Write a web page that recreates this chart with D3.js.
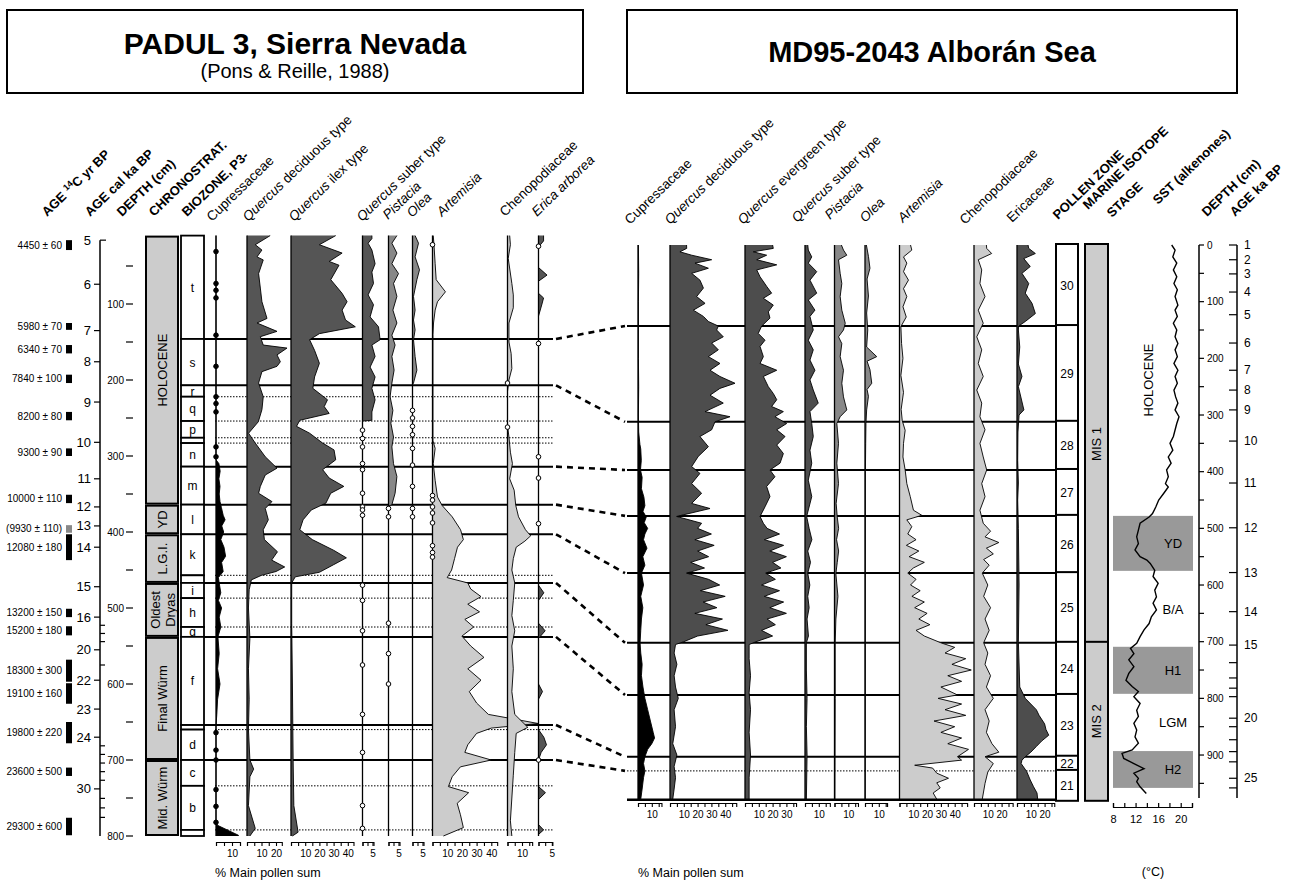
<!DOCTYPE html>
<html>
<head>
<meta charset="utf-8">
<script src="https://cdn.jsdelivr.net/npm/d3@7"></script>
<style>
  body { margin: 0; background: #fff; }
  text { font-family: "Liberation Sans", Arial, sans-serif; fill: #000; }
</style>
</head>
<body>
<svg id="chart" width="1297" height="880"></svg>
<script>
// ---------------- PADUL 3 data (depth in cm, values in %) ----------------
var padulDateLabels = ["4450 ± 60", "5980 ± 70", "6340 ± 70", "7840 ± 100", "8200 ± 80", "9300 ± 90",
  "10000 ± 110", "(9930 ± 110)", "12080 ± 180", "13200 ± 150", "15200 ± 180", "18300 ± 300",
  "19100 ± 160", "19800 ± 220", "23600 ± 500", "29300 ± 600"];
var padulDateTop = [16, 125, 154, 193, 242, 290, 351, 391, 403, 501, 524, 568, 599, 650, 710, 776];
var padulDateBot = [29, 134, 165, 204, 253, 300, 362, 401, 437, 512, 536, 597, 626, 678, 721, 799];
var padulDateGrey = [0, 0, 0, 0, 0, 0, 0, 1, 0, 0, 0, 0, 0, 0, 0, 0];

var padulAges = [5, 6, 7, 8, 9, 10, 11, 12, 13, 14, 15, 16, 20, 22, 23, 24, 30, 34];
var padulAgeDepth = [16, 74, 135, 176, 229, 282, 330, 367, 392, 420, 472, 512, 555, 595, 633, 670, 738, 788];
var padulAgeLabels = [5, 6, 7, 8, 9, 10, 11, 12, 13, 14, 15, 16, 20, 22, 23, 24, 30];
var padulAgeMinor = [17, 18, 19, 21, 25, 26, 27, 28, 29, 31, 32, 33];
var padulDepthTicks = [100, 200, 300, 400, 500, 600, 700, 800];

var padulChrono = [
  { name: "HOLOCENE", top: 10, bot: 364 },
  { name: "YD", top: 364, bot: 403 },
  { name: "L.G.I.", top: 403, bot: 467 },
  { name: "Oldest|Dryas", top: 467, bot: 538 },
  { name: "Final Würm", top: 538, bot: 700 },
  { name: "Mid. Würm", top: 700, bot: 800 }
];
var padulZones = [
  ["t", 10, 146], ["s", 146, 207], ["r", 207, 222], ["q", 222, 254], ["p", 254, 276], ["", 276, 283],
  ["n", 283, 314], ["m", 314, 364], ["l", 364, 403], ["k", 403, 457], ["", 457, 467], ["i", 467, 487],
  ["h", 487, 525], ["g", 525, 538], ["f", 538, 654], ["", 654, 660], ["d", 660, 700], ["c", 700, 734],
  ["b", 734, 792], ["", 792, 800]
];
var padulSolid = [146, 207, 314, 364, 403, 467, 538, 654, 700];
var padulDotted = [222, 254, 276, 283, 457, 487, 525, 660, 734, 792];

var padulTaxa = ["Cupressaceae", "Quercus| deciduous type", "Quercus| ilex type", "Quercus| suber type",
  "Pistacia|", "Olea|", "Artemisia|", "Chenopodiaceae", "Erica arborea|"];

var padulCup = [[10,0],[305,0],[310,1.8],[320,2.6],[330,1.8],[340,2.5],[350,2],[360,2.5],[368,3.4],[378,4.5],[384,5.7],
  [392,3.6],[400,4.8],[410,3],[420,5],[432,6],[440,3.5],[452,4.5],[460,1.5],[467,2],[480,3],[490,1.5],[500,3.5],[512,2],
  [525,3],[538,1.2],[560,2],[580,1],[600,2.5],[620,1],[640,0.5],[655,0],[780,0],[786,1],[793,8],[799,14],[800,14]];
var padulCupDots = [31, 73, 82, 92, 141, 182, 222, 231, 242, 288, 301, 664, 687, 700, 739, 761, 782];
var padulQdec = [[10,16],[22,5.7],[29,10.3],[38,6.9],[42,11.2],[60,8],[79,9.2],[97,10.3],[119,13.8],[125,6.9],[136,20.7],
  [143,9.2],[154,11.2],[158,27.6],[167,20.7],[176,23],[182,20.7],[189,10.3],[204,8],[222,11.2],[239,10.3],[255,7.8],
  [270,1.1],[283,5.7],[301,12.6],[316,20.7],[325,12.6],[340,9.2],[349,8],[360,17.2],[369,12.6],[384,14.7],[397,11.2],
  [410,12],[426,21],[437,17],[446,26],[452,20],[457,10],[463,3],[476,1.5],[500,1],[540,2],[580,1],[620,1.5],[660,1],
  [700,2],[712,4.6],[722,2],[760,1],[790,5.7],[800,2]];
var padulQilex = [[10,31.5],[22,20],[33,36],[44,26.9],[49,33.8],[68,28],[86,36],[97,39.5],[108,36],[121,38.4],[130,45.3],
  [139,20],[147,13.1],[161,16.6],[178,20],[196,16.6],[211,15.4],[226,25.7],[235,23.4],[244,26.9],[253,6.2],[261,3.9],
  [270,13.1],[283,22.3],[292,30.3],[305,31.5],[318,22.3],[329,26.9],[340,37.2],[349,28],[362,24.6],[371,14.3],
  [384,8.5],[397,6.2],[410,15],[424,30],[434,39],[443,30],[453,20],[459,3],[467,0.5],[520,0.5],[600,1],[700,1.5],
  [760,2],[795,5],[800,1]];
var padulQsuber = [[10,4.7],[14,4.7],[20,2.8],[29,4.7],[47,6.3],[58,4.7],[73,5.5],[88,2.8],[101,5.5],[117,3.8],[130,8],
  [147,8.8],[154,4.7],[169,6.3],[183,3.8],[196,6.3],[211,4.7],[226,6.3],[242,4.7],[253,4.7],[254,0],[800,0]];
var padulQsuberDots = [266, 277, 288, 310, 318, 349, 367, 371, 378, 470, 490, 530, 575, 640, 690, 760, 790];
var padulPistacia = [[10,4.2],[20,1.7],[33,4.2],[47,1.7],[60,5],[73,2.5],[90,4.2],[108,2.2],[125,4.2],[141,1.7],[154,3.3],
  [169,1.7],[187,2.8],[204,1.7],[222,0.8],[240,2.2],[257,1.2],[275,2.5],[288,1.7],[310,2.5],[327,4.2],[349,3.3],
  [364,1.7],[366,0],[800,0]];
var padulPistaciaDots = [369, 380, 520, 560, 600];
var padulOlea = [[10,1.3],[20,3],[38,1.3],[55,3.5],[68,2.2],[90,0.5],[108,1.3],[121,0.5],[134,1.3],[147,0.5],[169,1.3],
  [187,2.2],[204,0.5],[206,0],[800,0]];
var padulOleaDots = [240, 250, 261, 272, 290, 312, 340, 369, 380];
var padulArtemisia = [[10,0.5],[22,1],[47,1.8],[68,2.5],[84,8.8],[97,3.4],[108,1.8],[125,0.7],[140,0.3],[280,0.3],
  [290,1.8],[310,0.5],[332,1.8],[354,3.4],[365,6.5],[380,13.4],[397,19.1],[410,21],[420,17],[435,15],[450,13],
  [460,10],[467,24],[475,26],[485,33],[495,24],[505,32],[515,22],[525,28],[537,20],[550,26],[565,35],[580,24],
  [595,33],[610,25],[625,30],[640,38],[652,72],[658,40],[665,30],[680,24],[690,22],[700,40],[709,19],[722,13.4],
  [735,10.8],[743,24.6],[757,16.8],[772,19],[789,21],[800,7.4]];
var padulArtemisiaDots = [22, 352, 358, 367, 375, 388, 418, 427, 433];
var padulCheno = [[10,1.5],[22,2],[40,0.5],[73,3],[88,4],[105,4],[125,1],[150,1],[165,2.5],[185,3],[200,1],[215,0],
  [260,0],[275,1],[295,2],[310,3.4],[330,1.5],[345,4.6],[365,5.7],[380,7.6],[397,12.4],[405,16],[412,12],[420,6],
  [435,4],[450,3],[467,5],[490,4],[510,3],[530,5],[550,3],[580,4],[610,3],[640,5],[657,14],[665,6],[690,5],
  [720,4],[750,3],[780,2],[800,3]];
var padulChenoDots = [204, 262];
var padulErica = [[10,1.9],[17,1.9],[25,0],[52,0],[62,3.2],[70,0],[86,0],[92,1.9],[100,1.3],[116,0],[470,0],[480,2],
  [490,0],[520,0],[530,2.5],[540,0],[600,0],[610,1.5],[620,0],[660,0],[670,2],[680,3],[690,1],[700,0],[735,0],
  [743,2.6],[752,0],[785,0],[792,1.9],[798,0],[800,0]];
var padulEricaDots = [24, 152, 301, 329, 389, 700];

// ---------------- MD95-2043 data ----------------
var mdTaxa = ["Cupressaceae", "Quercus| deciduous type", "Quercus| evergreen type", "Quercus| suber type",
  "Pistacia|", "Olea|", "Artemisia|", "Chenopodiaceae", "Ericaceae"];

var mdCup = [[0,0.3],[50,0.5],[100,0.3],[150,0.3],[200,0.3],[250,0.5],[300,0.3],[330,0.5],[352,1.4],[360,2],[380,2.4],
  [397,1.8],[410,3],[430,2.5],[445,4.3],[460,5],[470,3.6],[480,6],[490,4.5],[500,7],[510,5],[520,4],[535,6.5],
  [550,3.5],[565,5],[579,2.5],[600,4],[620,2],[640,3.5],[660,2.5],[680,2],[702,1.5],[720,2],[740,3],[760,2.5],
  [780,3.6],[800,5],[820,7],[840,9],[860,11],[870,12],[880,10],[890,7],[903,5],[915,4],[928,5],[940,4],[960,3],[978,2]];
var mdQdec = [[0,12],[6,12.1],[12,7.2],[18,15.7],[26,30.2],[32,18.1],[41,27.8],[50,15.7],[62,21.7],[76,24.2],
  [91,19.3],[103,25.4],[115,16.9],[126,24.2],[135,27.8],[143,35],[150,33.8],[162,38.6],[173,30.2],[185,35],
  [197,27.8],[209,36.2],[221,29],[232,36.2],[244,47.1],[253,36.2],[265,29],[279,38.6],[294,25.4],[303,43.5],
  [312,32.6],[326,30.2],[338,21.7],[356,27.8],[373,20.5],[391,15.7],[403,21.7],[421,15.7],[438,22.9],[456,15.7],
  [465,29],[479,4.8],[491,22.9],[500,20],[510,30],[520,18],[530,32],[540,20],[550,28],[560,15],[570,25],[579,12],
  [590,28],[600,36],[610,22],[620,40],[630,24],[640,34],[650,18],[660,38],[670,26],[680,42],[690,20],[700,10],
  [705,4],[720,3],[740,5],[760,3],[780,4],[800,6],[820,3],[850,4],[880,2],[900,5],[920,3],[940,4],[960,3],[978,2]];
var mdQever = [[0,20],[6,20.5],[12,6],[18,15.7],[26,8.5],[35,23],[44,8.5],[56,10.9],[73,15.7],[85,19.3],[94,13.3],
  [106,20.5],[118,16.9],[129,18.1],[143,12.1],[156,9.6],[168,14.5],[179,10.9],[197,13.3],[209,10.9],[221,23],
  [232,13.3],[250,16.9],[262,20.5],[273,23],[285,19.3],[294,27.8],[303,21.7],[315,30.2],[326,23],[338,29],[353,23],
  [368,27.8],[385,25.4],[397,18.1],[409,21.7],[426,15.7],[444,18.1],[462,14.5],[479,10.9],[491,13.3],[500,16],
  [510,25],[520,14],[530,28],[540,18],[550,30],[560,20],[570,26],[579,15],[590,22],[600,12],[610,25],[620,14],
  [630,28],[640,18],[650,30],[660,16],[670,22],[680,12],[690,20],[700,8],[705,3],[730,3],[760,4],[790,3],[820,4],
  [860,3],[900,4],[940,3],[978,3]];
var mdQsuber = [[0,2],[9,2.4],[21,4.9],[32,2.4],[47,8.5],[62,3.6],[85,8.5],[97,2.4],[115,7.2],[126,3.6],[150,6],
  [168,2.4],[185,6],[203,3.6],[221,7.2],[238,3.6],[256,6],[279,9.6],[294,3.6],[315,4.9],[338,6],[362,3.6],[385,4.9],
  [415,2.4],[444,4.9],[479,1.2],[500,3],[520,5],[540,2],[560,4],[579,2],[600,3.5],[620,2],[640,3],[660,1.5],
  [690,2.5],[702,1],[750,1],[800,1.5],[850,1],[900,1.5],[978,1]];
var mdPistacia = [[0,5],[9,6.5],[18,8.9],[26,2.9],[50,4.1],[68,5.3],[91,4.1],[115,5.3],[138,7.8],[150,6.5],[162,2.9],
  [174,5.3],[197,4.1],[221,6.5],[244,5.3],[268,6.5],[291,8.9],[303,4.1],[315,1.7],[350,2.9],[385,1.7],[421,2.9],
  [456,1.2],[480,2],[500,3],[520,1.5],[540,3],[560,2],[580,1],[620,2.5],[660,1],[702,0.5],[800,0.5],[978,0.3]];
var mdOlea = [[0,1],[20,2.5],[41,3.6],[60,1.5],[90,2.5],[120,1.2],[150,2],[180,1.2],[197,8.5],[205,1.5],[220,3.6],
  [244,4.9],[255,1.5],[267,2.5],[291,1.2],[315,0.7],[350,0.5],[400,0.3],[978,0.2]];
var mdArtemisia = [[0,8],[9,8.9],[21,2.9],[32,5.3],[47,2.9],[62,6.5],[77,2.9],[91,5.3],[109,2.5],[127,4.9],[144,1],
  [174,1.5],[200,2.5],[230,1],[260,2.9],[290,1.2],[310,2],[327,4.1],[350,2.9],[374,2.5],[397,4.1],[421,5.3],
  [444,7.8],[468,10.1],[477,16.2],[485,5.3],[497,8.9],[510,6],[520,12],[530,5],[540,14],[550,7],[560,18],[570,10],
  [579,6],[590,12],[600,8],[610,15],[620,9],[630,18],[640,11],[650,20],[660,14],[670,22],[680,12],[690,18],[702,30],
  [710,40],[720,33],[730,48],[740,38],[750,52],[760,35],[770,45],[780,30],[794,42],[800,28],[810,45],[820,33],
  [830,48],[840,25],[850,40],[860,30],[870,45],[880,35],[890,50],[903,42],[909,45],[918,11],[923,24],[932,27],
  [941,35.5],[949,27],[958,29.5],[967,24.4],[978,27]];
var mdCheno = [[0,9],[6,9.2],[15,12.8],[26,3.1],[44,5.6],[68,4.3],[91,8],[115,3.1],[138,6.7],[162,2],[185,5.6],
  [209,3.1],[232,6.7],[256,2],[279,5.6],[303,4.3],[326,8],[350,4.3],[374,6.7],[397,9.2],[421,5.6],[444,8],[468,4.3],
  [491,6.7],[505,12],[515,8],[525,18],[535,9],[545,14],[555,7],[565,11],[579,6],[600,10],[620,7],[640,12],[660,8],
  [680,11],[702,7],[720,10],[740,8],[760,12],[780,9],[800,14],[820,8],[840,11],[860,9],[880,13],[895,18],[903,8],
  [915,14],[930,10],[950,8],[978,6]];
var mdErica = [[0,8],[6,8.5],[15,13.3],[24,4.9],[38,9.6],[50,3.6],[68,8.5],[85,6],[103,10.9],[121,13.3],[135,6],
  [143,1.2],[150,1],[180,2],[210,1],[232,3.6],[250,1],[291,5],[300,1.5],[330,0.7],[380,0.5],[420,1],[450,0.5],
  [500,1],[600,1.5],[700,1],[780,2],[800,6],[810,10],[820,14],[830,16],[845,20],[855,21],[865,23],[875,18],[885,14],
  [895,10],[903,6],[909,3.6],[915,3],[929,7],[944,9.6],[956,12],[967,14.5],[978,15]];

var mdZones = [["30", 0, 143], ["29", 143, 312], ["28", 312, 397], ["27", 397, 478], ["26", 478, 579],
  ["25", 579, 702], ["24", 702, 794], ["23", 794, 903], ["22", 903, 928], ["21", 928, 979]];
var mdSolid = [143, 312, 397, 478, 579, 702, 794, 903];
var mdDotted = [928];
var mdMIS = [["MIS 1", 0, 702], ["MIS 2", 702, 979]];
var mdEvents = [["YD", 478, 575, 1], ["B/A", 575, 709, 0], ["H1", 709, 792, 1], ["LGM", 792, 893, 0], ["H2", 893, 958, 1]];

var mdAges = [1, 2, 3, 4, 5, 6, 7, 8, 9, 10, 11, 12, 13, 14, 15, 16, 17, 18, 19, 20, 21, 22, 23, 24, 25, 26];
var mdAgeDepth = [0, 26, 51, 83, 123, 173, 221, 256, 291, 346, 420, 499, 578, 647, 706, 737, 764, 782, 797, 835,
  850, 873, 894, 912, 941, 958];
var mdAgeLabels = [1, 2, 3, 4, 5, 6, 7, 8, 9, 10, 11, 12, 13, 14, 15, 20, 25];
var mdDepthTicks = [0, 100, 200, 300, 400, 500, 600, 700, 800, 900];

var sstDepth = [0, 9, 21, 32, 44, 56, 68, 79, 91, 106, 115, 126, 138, 150, 162, 174, 185, 197, 209, 221, 232, 244,
  256, 268, 279, 291, 303, 315, 338, 350, 362, 374, 385, 397, 409, 421, 427, 438, 450, 462, 474, 480, 491, 503,
  515, 527, 538, 550, 556, 562, 574, 585, 597, 609, 621, 632, 644, 656, 668, 679, 691, 703, 712, 721, 732,
  744, 756, 768, 779, 788, 797, 809, 821, 832, 844, 856, 868, 879, 891, 897, 906, 915, 924, 932, 941, 947, 956, 968, 979];
var sstValue = [18.4, 19, 18.6, 19.3, 18.7, 19.3, 18.8, 19.4, 19, 19.5, 19, 19.4, 18.7, 19.3, 19, 19.5, 19, 19.4,
  18.8, 19.5, 19, 19.4, 18.8, 19.1, 19.5, 19, 19.7, 19.3, 18.7, 18.1, 18.6, 17.8, 18.3, 17.5, 17.8, 17.3, 17.8, 17,
  16.1, 15.6, 15, 14.4, 12.8, 12.5, 12.2, 12.5, 11.9, 12.8, 14, 14.6, 15.4, 15.1, 16, 15.4, 15.7, 15.1, 15.7, 14.8,
  14.4, 13.5, 12.8, 12.2, 11.1, 11.7, 10.8, 11.7, 10.8, 10.3, 11.4, 12.5, 11.7, 12.8, 12.2, 12.5, 11.7, 12.2, 11.9,
  12.5, 11.4, 9.6, 9.9, 11.7, 13.5, 11.7, 12.5, 12.2, 12.8, 13.9];

// connectors between the two records: [Padul depth, MD95-2043 depth]
var correlations = [[146, 143], [207, 312], [314, 397], [364, 478], [403, 579], [467, 702], [538, 794], [654, 903], [700, 928]];

// ---------------- drawing ----------------
var svg = d3.select("#chart");
var yL = d3.scaleLinear().domain([0, 800]).range([228, 836]);
var yR = d3.scaleLinear().domain([0, 1000]).range([245, 811.7]);
var ageL = d3.scaleLinear().domain(padulAges).range(padulAgeDepth);
var ageR = d3.scaleLinear().domain(mdAges).range(mdAgeDepth);

function toPairs(d, v) { return d.map(function(x, i) { return [x, v[i]]; }); }

// title boxes
function titleBox(x0, x1, main, sub, cx) {
  svg.append("rect").attr("x", x0).attr("y", 10).attr("width", x1 - x0).attr("height", 83)
    .attr("fill", "none").attr("stroke", "#000").attr("stroke-width", 2);
  svg.append("text").attr("x", cx).attr("y", sub ? 54 : 62).attr("text-anchor", "middle")
    .style("font-size", sub ? "30px" : "29px").style("font-weight", "bold").text(main);
  if (sub) svg.append("text").attr("x", cx).attr("y", 78).attr("text-anchor", "middle")
    .style("font-size", "20px").text(sub);
}
titleBox(7, 583, "PADUL 3, Sierra Nevada", "(Pons & Reille, 1988)", 295);
titleBox(627, 1237, "MD95-2043 Alborán Sea", null, 932);

// rotated headers
function header(x, y, label, bold) {
  var t = svg.append("text").attr("transform", "translate(" + x + "," + y + ") rotate(-44)")
    .style("font-size", bold ? "13px" : "13.5px").style("font-weight", bold ? "bold" : "normal");
  var parts = label.split("|");
  if (parts.length > 1) {
    t.append("tspan").style("font-style", "italic").text(parts[0]);
    if (parts[1]) t.append("tspan").text(parts[1]);
  } else if (label.indexOf("14C") >= 0) {
    t.append("tspan").text("AGE ");
    t.append("tspan").attr("dy", -5).style("font-size", "9px").text("14");
    t.append("tspan").attr("dy", 5).text("C yr BP");
  } else {
    t.text(label);
  }
}
var padulHeadX = [212, 248, 294, 362, 388, 412, 442, 505, 537];
var padulHeadY = [222, 222, 222, 222, 220, 218, 217, 217, 217];
padulTaxa.forEach(function(n, i) { header(padulHeadX[i], padulHeadY[i], n, false); });
header(47, 217, "AGE 14C yr BP", true);
header(90, 217, "AGE cal ka BP", true);
header(122, 217, "DEPTH (cm)", true);
header(154, 217, "CHRONOSTRAT.", true);
header(187, 217, "BIOZONE, P3-", true);
var mdHeadX = [630, 670, 743, 797, 830, 865, 903, 965, 1012];
var mdHeadY = [225, 225, 225, 223, 220, 223, 223, 225, 223];
mdTaxa.forEach(function(n, i) { header(mdHeadX[i], mdHeadY[i], n, false); });
header(1058, 220, "POLLEN ZONE", true);
header(1088, 210, "MARINE ISOTOPE", true);
header(1112, 218, "STAGE", true);
header(1158, 205, "SST (alkenones)", true);
header(1207, 217, "DEPTH (cm)", true);
header(1235, 217, "AGE ka BP", true);

// ---- PADUL left axes ----
var gd = svg.append("g");
padulDateLabels.forEach(function(lab, i) {
  var t = yL(padulDateTop[i]), b = yL(padulDateBot[i]);
  gd.append("rect").attr("x", 66).attr("y", t).attr("width", 6).attr("height", b - t)
    .attr("fill", padulDateGrey[i] ? "#888" : "#000");
  gd.append("text").attr("x", 62).attr("y", (t + b) / 2 + 3.5).attr("text-anchor", "end")
    .style("font-size", "10px").text(lab);
});
// age axis (labelled ticks point left, minor ticks right)
gd.append("line").attr("x1", 100).attr("x2", 100).attr("y1", yL(16)).attr("y2", yL(800))
  .attr("stroke", "#000").attr("stroke-width", 1.5);
padulAgeLabels.forEach(function(a, i) {
  var y = yL(ageL(a));
  gd.append("line").attr("x1", i === 0 ? 100 : 94).attr("x2", i === 0 ? 106 : 100).attr("y1", y).attr("y2", y)
    .attr("stroke", "#000").attr("stroke-width", 1.2);
  gd.append("text").attr("x", 91).attr("y", y + 4.5).attr("text-anchor", "end")
    .style("font-size", "13px").text(a);
});
padulAgeMinor.forEach(function(a) {
  var y = yL(ageL(a));
  gd.append("line").attr("x1", 100).attr("x2", 105).attr("y1", y).attr("y2", y).attr("stroke", "#000").attr("stroke-width", 1.2);
});
// depth ticks (no axis line)
d3.range(50, 801, 50).forEach(function(d) {
  var y = yL(d);
  gd.append("line").attr("x1", 126).attr("x2", 133).attr("y1", y).attr("y2", y).attr("stroke", "#000").attr("stroke-width", 1.2);
});
padulDepthTicks.forEach(function(d) {
  gd.append("text").attr("x", 124).attr("y", yL(d) + 3.5).attr("text-anchor", "end")
    .style("font-size", "10px").text(d);
});

// chronostrat column
padulChrono.forEach(function(c) {
  var t = yL(c.top) + 1, b = yL(c.bot) - 1;
  gd.append("rect").attr("x", 146).attr("y", t).attr("width", 32).attr("height", b - t)
    .attr("fill", "#ccc").attr("stroke", "#000").attr("stroke-width", 2);
  var lines = c.name.split("|");
  lines.forEach(function(l, j) {
    var cx = 162 + (j - (lines.length - 1) / 2) * 15;
    gd.append("text").attr("transform", "translate(" + (cx + 5) + "," + (t + b) / 2 + ") rotate(-90)")
      .attr("text-anchor", "middle").style("font-size", "13px").text(l);
  });
});
// biozone column
padulZones.forEach(function(z) {
  var t = yL(z[1]), b = yL(z[2]);
  gd.append("rect").attr("x", 181).attr("y", t).attr("width", 23).attr("height", b - t)
    .attr("fill", "#fff").attr("stroke", "#000").attr("stroke-width", 1.8);
  if (z[0]) gd.append("text").attr("x", 192.5).attr("y", (t + b) / 2 + 4.5).attr("text-anchor", "middle")
    .style("font-size", "12px").text(z[0]);
});

// ---- pollen columns ----
function pollenColumn(g, col, y, d0, d1, axisY) {
  var x = d3.scaleLinear().domain([0, col.max]).range([col.x0, col.x0 + col.max * col.k]);
  var area = d3.area().y(function(d) { return y(d[0]); }).x0(col.x0).x1(function(d) { return x(d[1]); });
  var line = d3.line().y(function(d) { return y(d[0]); }).x(function(d) { return x(d[1]); });
  g.append("path").datum(col.data).attr("d", area).attr("fill", col.fill).attr("stroke", "none");
  g.append("path").datum(col.data).attr("d", line).attr("fill", "none").attr("stroke", "#000").attr("stroke-width", 0.9);
  g.append("line").attr("x1", col.x0).attr("x2", col.x0).attr("y1", y(d0)).attr("y2", y(d1))
    .attr("stroke", "#000").attr("stroke-width", 1.3);
  (col.dots || []).forEach(function(d) {
    g.append("circle").attr("cx", col.x0).attr("cy", y(d)).attr("r", 2.3)
      .attr("fill", col.dotFill || "#fff").attr("stroke", "#000").attr("stroke-width", 1);
  });
  var axis = d3.axisBottom(x).tickValues(d3.range(0, col.max + 0.001, col.step))
    .tickSize(4).tickSizeOuter(4).tickPadding(4)
    .tickFormat(function(v) { return col.labels.indexOf(v) >= 0 ? v : ""; });
  var ag = g.append("g").attr("transform", "translate(0," + axisY + ")").call(axis);
  ag.selectAll("text").style("font-size", "10px").style("font-family", "Liberation Sans, Arial, sans-serif");
  ag.selectAll("path,line").attr("stroke-width", 1.1);
}

var padulCols = [
  { data: padulCup, x0: 216, k: 1.6, max: 15, step: 5, labels: [10], fill: "#000", dots: padulCupDots, dotFill: "#000" },
  { data: padulQdec, x0: 247, k: 1.45, max: 24, step: 5, labels: [10, 20], fill: "#555" },
  { data: padulQilex, x0: 291, k: 1.42, max: 44, step: 5, labels: [10, 20, 30, 40], fill: "#555" },
  { data: padulQsuber, x0: 362.5, k: 2.0, max: 5.5, step: 2.5, labels: [5], fill: "#555", dots: padulQsuberDots },
  { data: padulPistacia, x0: 388.5, k: 2.0, max: 5.5, step: 2.5, labels: [5], fill: "#888", dots: padulPistaciaDots },
  { data: padulOlea, x0: 412.5, k: 2.0, max: 5.5, step: 2.5, labels: [5], fill: "#888", dots: padulOleaDots },
  { data: padulArtemisia, x0: 432.5, k: 1.47, max: 44, step: 5, labels: [10, 20, 30, 40], fill: "#ccc", dots: padulArtemisiaDots },
  { data: padulCheno, x0: 507.5, k: 1.45, max: 17, step: 5, labels: [10], fill: "#ccc", dots: padulChenoDots },
  { data: padulErica, x0: 538.5, k: 2.67, max: 5.2, step: 2.5, labels: [5], fill: "#555", dots: padulEricaDots }
];
var gp = svg.append("g");
padulSolid.forEach(function(d) {
  gp.append("line").attr("x1", 204).attr("x2", 553).attr("y1", yL(d)).attr("y2", yL(d)).attr("stroke", "#000").attr("stroke-width", 2);
});
padulDotted.forEach(function(d) {
  gp.append("line").attr("x1", 215).attr("x2", 553).attr("y1", yL(d)).attr("y2", yL(d))
    .attr("stroke", "#000").attr("stroke-width", 1).attr("stroke-dasharray", "1.5,1.5");
});
padulCols.forEach(function(c) { pollenColumn(gp, c, yL, 10, 800, 842); });
gp.append("text").attr("x", 215).attr("y", 877).style("font-size", "12.5px").text("% Main pollen sum");

// correlation lines
correlations.forEach(function(c) {
  svg.append("line").attr("x1", 556).attr("y1", yL(c[0])).attr("x2", 625).attr("y2", yR(c[1]))
    .attr("stroke", "#000").attr("stroke-width", 2.6).attr("stroke-dasharray", "6,5");
});

// ---- MD95-2043 ----
var mdCols = [
  { data: mdCup, x0: 638, k: 1.38, max: 17, step: 5, labels: [10], fill: "#000" },
  { data: mdQdec, x0: 670, k: 1.38, max: 48, step: 5, labels: [10, 20, 30, 40], fill: "#4d4d4d" },
  { data: mdQever, x0: 745, k: 1.38, max: 37, step: 5, labels: [10, 20, 30], fill: "#4d4d4d" },
  { data: mdQsuber, x0: 805, k: 1.38, max: 18, step: 5, labels: [10], fill: "#4d4d4d" },
  { data: mdPistacia, x0: 834.5, k: 1.38, max: 17, step: 5, labels: [10], fill: "#888" },
  { data: mdOlea, x0: 865, k: 1.38, max: 16, step: 5, labels: [10], fill: "#888" },
  { data: mdArtemisia, x0: 899.5, k: 1.38, max: 49, step: 5, labels: [10, 20, 30, 40], fill: "#ccc" },
  { data: mdCheno, x0: 974, k: 1.38, max: 28, step: 5, labels: [10, 20], fill: "#ccc" },
  { data: mdErica, x0: 1017, k: 1.38, max: 27, step: 5, labels: [10, 20], fill: "#4d4d4d" }
];
var gm = svg.append("g");
mdSolid.forEach(function(d) {
  gm.append("line").attr("x1", 627).attr("x2", 1078).attr("y1", yR(d)).attr("y2", yR(d)).attr("stroke", "#000").attr("stroke-width", 2);
});
mdDotted.forEach(function(d) {
  gm.append("line").attr("x1", 627).attr("x2", 1056).attr("y1", yR(d)).attr("y2", yR(d))
    .attr("stroke", "#000").attr("stroke-width", 1).attr("stroke-dasharray", "1.5,1.5");
});
mdCols.forEach(function(c) { pollenColumn(gm, c, yR, 0, 979, 803); });
gm.append("line").attr("x1", 627).attr("x2", 1078).attr("y1", yR(979)).attr("y2", yR(979)).attr("stroke", "#000").attr("stroke-width", 2.5);
gm.append("text").attr("x", 638).attr("y", 877).style("font-size", "12.5px").text("% Main pollen sum");

// pollen zones + MIS
mdZones.forEach(function(z) {
  var t = yR(z[1]) - 1, b = yR(z[2]) + 1;
  gm.append("rect").attr("x", 1056).attr("y", t).attr("width", 22).attr("height", b - t)
    .attr("fill", "#fff").attr("stroke", "#000").attr("stroke-width", 2);
  gm.append("text").attr("x", 1067).attr("y", (t + b) / 2 + 4.5).attr("text-anchor", "middle")
    .style("font-size", "12px").text(z[0]);
});
mdMIS.forEach(function(m) {
  var t = yR(m[1]) - 1, b = yR(m[2]) + 1;
  gm.append("rect").attr("x", 1085).attr("y", t).attr("width", 23).attr("height", b - t)
    .attr("fill", "#ccc").attr("stroke", "#000").attr("stroke-width", 2);
  gm.append("text").attr("transform", "translate(1101," + (t + b) / 2 + ") rotate(-90)")
    .attr("text-anchor", "middle").style("font-size", "13px").text(m[0]);
});

// SST
var xSST = d3.scaleLinear().domain([8, 22]).range([1113, 1192]);
mdEvents.forEach(function(e) {
  if (e[3]) gm.append("rect").attr("x", 1113).attr("width", 80).attr("y", yR(e[1])).attr("height", yR(e[2]) - yR(e[1]))
    .attr("fill", "#999");
  gm.append("text").attr("x", 1173).attr("y", (yR(e[1]) + yR(e[2])) / 2 + 5).attr("text-anchor", "middle")
    .style("font-size", "13px").text(e[0]);
});
gm.append("text").attr("transform", "translate(1153,380) rotate(-90)").attr("text-anchor", "middle")
  .style("font-size", "13px").text("HOLOCENE");
gm.append("path").datum(toPairs(sstDepth, sstValue))
  .attr("d", d3.line().x(function(d) { return xSST(d[1]); }).y(function(d) { return yR(d[0]); }))
  .attr("fill", "none").attr("stroke", "#000").attr("stroke-width", 1.4);
var sstAxis = d3.axisBottom(xSST).tickValues(d3.range(8, 22.1, 2)).tickSize(-4).tickSizeOuter(-4).tickPadding(8)
  .tickFormat(function(v) { return v % 4 === 0 ? v : ""; });
var sa = gm.append("g").attr("transform", "translate(0,807)").call(sstAxis);
sa.selectAll("text").style("font-size", "11px");
sa.selectAll("path,line").attr("stroke-width", 1.2);
gm.append("text").attr("x", 1153).attr("y", 876).attr("text-anchor", "middle").style("font-size", "12.5px").text("(°C)");

// right depth axis
gm.append("line").attr("x1", 1199).attr("x2", 1199).attr("y1", yR(0)).attr("y2", yR(976)).attr("stroke", "#000").attr("stroke-width", 1.5);
d3.range(0, 951, 50).forEach(function(d) {
  gm.append("line").attr("x1", 1199).attr("x2", 1204).attr("y1", yR(d)).attr("y2", yR(d)).attr("stroke", "#000").attr("stroke-width", 1.2);
});
mdDepthTicks.forEach(function(d) {
  gm.append("text").attr("x", 1207).attr("y", yR(d) + 3.5).style("font-size", "10px").text(d);
});
// right age axis
gm.append("line").attr("x1", 1237).attr("x2", 1237).attr("y1", yR(0)).attr("y2", yR(976)).attr("stroke", "#000").attr("stroke-width", 1.5);
mdAges.forEach(function(a) {
  var y = yR(ageR(a));
  gm.append("line").attr("x1", 1229).attr("x2", 1237).attr("y1", y).attr("y2", y).attr("stroke", "#000").attr("stroke-width", 1.2);
});
mdAgeLabels.forEach(function(a) {
  gm.append("text").attr("x", 1244).attr("y", yR(ageR(a)) + 4).style("font-size", "12px").text(a);
});
</script>
</body>
</html>
